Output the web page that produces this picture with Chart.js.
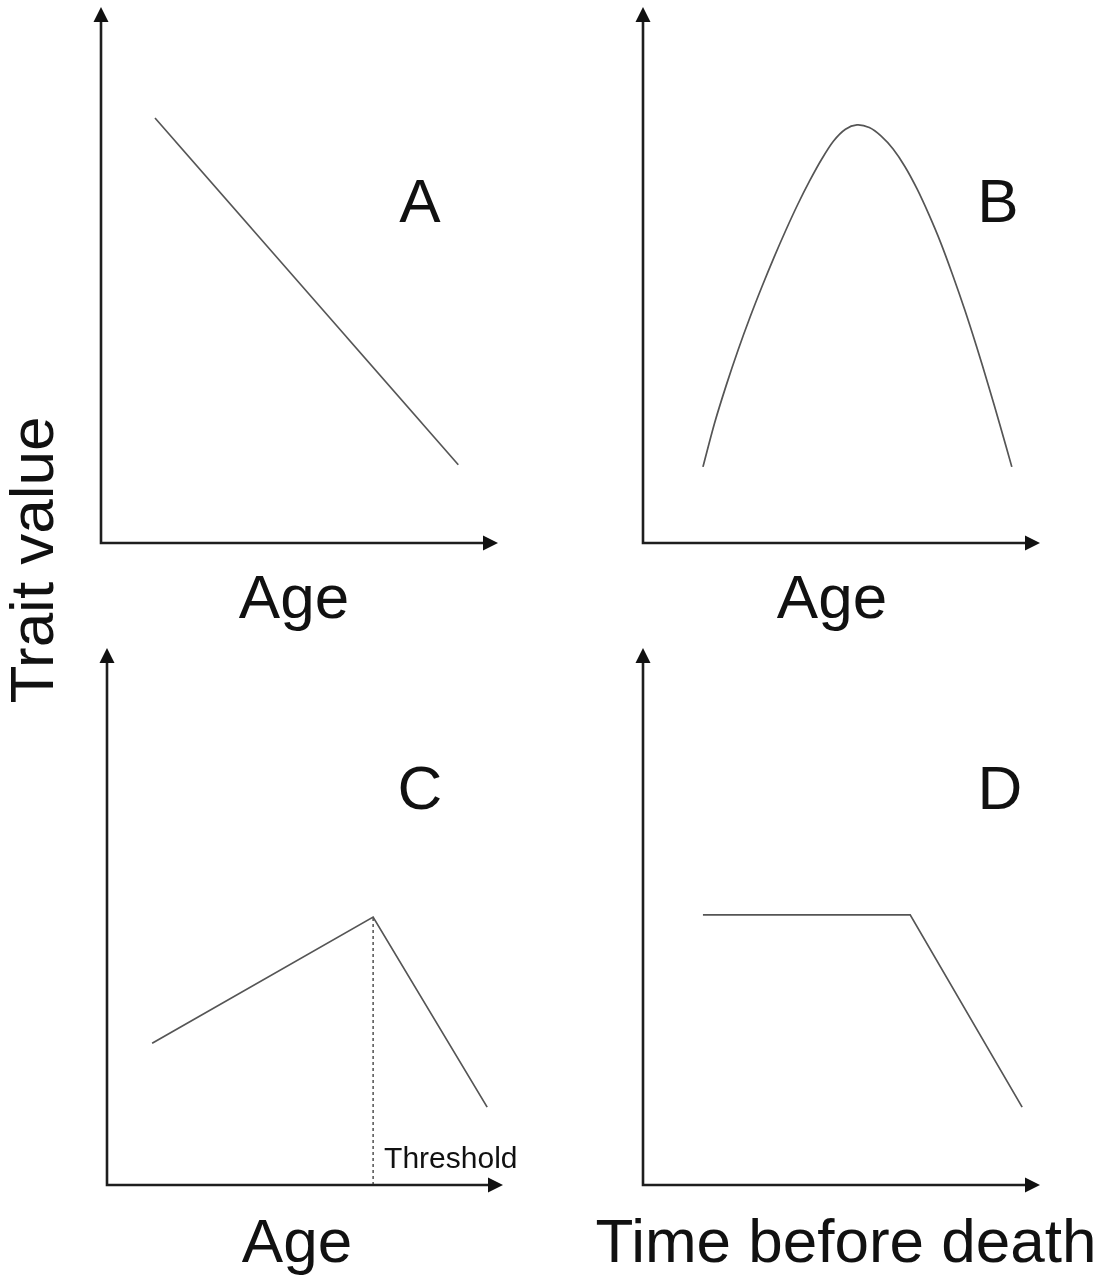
<!DOCTYPE html>
<html>
<head>
<meta charset="utf-8">
<title>Trait value patterns</title>
<script src="https://cdn.jsdelivr.net/npm/chart.js@4.4.0/dist/chart.umd.min.js"></script>
<style>
  body { margin: 0; background: #fff; }
  #wrap { position: relative; width: 1118px; height: 1277px; background: #fff; overflow: hidden; }
  #wrap canvas { position: absolute; }
  #ylab {
    position: absolute; left: 31.5px; top: 560px;
    font: 62px/62px "Liberation Sans", Arial, sans-serif; color: #111;
    white-space: nowrap;
    transform: translate(-50%, -50%) rotate(-90deg);
  }
</style>
</head>
<body>
<div id="wrap">
  <canvas id="panelA" width="489" height="640" style="left:70px;top:0px"></canvas>
  <canvas id="panelB" width="559" height="640" style="left:559px;top:0px"></canvas>
  <canvas id="panelC" width="489" height="637" style="left:70px;top:640px"></canvas>
  <canvas id="panelD" width="559" height="637" style="left:559px;top:640px"></canvas>
  <div id="ylab"></div>
</div>
<script>
// axis units run 0..10 on both axes in every panel
const yTitle = 'Trait value';
const panelLetters = ['A', 'B', 'C', 'D'];
const xTitles = ['Age', 'Age', 'Age', 'Time before death'];

// A: steady decline with age
const ageA = [1.36, 9.0];
const traitA = [7.93, 1.46];

// B: rise then fall (hump shaped)
const ageB = [1.51, 1.80, 2.10, 2.40, 2.70, 3.00, 3.30, 3.60, 3.90, 4.20, 4.50, 4.80, 5.10, 5.39,
              5.70, 6.00, 6.30, 6.60, 6.90, 7.20, 7.50, 7.80, 8.10, 8.40, 8.70, 9.00, 9.29];
const traitB = [1.42, 2.23, 2.95, 3.61, 4.22, 4.79, 5.33, 5.84, 6.32, 6.76, 7.16, 7.50, 7.72, 7.80,
                7.75, 7.59, 7.35, 7.02, 6.61, 6.13, 5.60, 5.00, 4.36, 3.67, 2.94, 2.18, 1.42];

// C: increase up to a threshold age, then decline
const ageC = [1.14, 6.72, 9.60];
const traitC = [2.64, 4.99, 1.45];
const thresholdAge = 6.72;
const thresholdLabel = 'Threshold';

// D: flat, then terminal decline before death
const timeD = [1.51, 6.73, 9.55];
const traitD = [5.03, 5.03, 1.45];

document.getElementById('ylab').textContent = yTitle;

const FONT = '"Liberation Sans", Arial, sans-serif';
const toPoints = (xs, ys) => xs.map((x, i) => ({ x: x, y: ys[i] }));

// axes with arrow heads, panel letter and x title
const arrowAxes = {
  id: 'arrowAxes',
  afterDraw(chart, args, opts) {
    const { ctx, chartArea: a } = chart;
    const head = 15, half = 7.5;
    ctx.save();
    ctx.strokeStyle = '#1e1e1e';
    ctx.fillStyle = '#111';
    ctx.lineWidth = 2.6;
    ctx.beginPath();
    ctx.moveTo(a.left, a.top + head - 1);
    ctx.lineTo(a.left, a.bottom);
    ctx.lineTo(a.right - head + 1, a.bottom);
    ctx.stroke();
    ctx.beginPath();
    ctx.moveTo(a.left, a.top);
    ctx.lineTo(a.left - half, a.top + head);
    ctx.lineTo(a.left + half, a.top + head);
    ctx.closePath();
    ctx.fill();
    ctx.beginPath();
    ctx.moveTo(a.right, a.bottom);
    ctx.lineTo(a.right - head, a.bottom - half);
    ctx.lineTo(a.right - head, a.bottom + half);
    ctx.closePath();
    ctx.fill();

    ctx.textBaseline = 'alphabetic';
    ctx.textAlign = 'center';
    ctx.font = '62px ' + FONT;
    ctx.fillText(opts.letter, a.left + opts.letterDx, a.top + opts.letterDy);
    ctx.fillText(opts.title, a.left + opts.titleDx, a.bottom + opts.titleDy);

    if (opts.threshold !== undefined) {
      const tx = chart.scales.x.getPixelForValue(opts.threshold);
      ctx.textAlign = 'left';
      ctx.font = '30px ' + FONT;
      ctx.fillText(thresholdLabel, tx + 11, a.bottom - 17);
    }
    ctx.restore();
  }
};

function makePanel(id, datasets, padding, deco) {
  return new Chart(document.getElementById(id), {
    type: 'line',
    data: { datasets: datasets },
    options: {
      responsive: false,
      animation: false,
      events: [],
      layout: { padding: padding },
      elements: { point: { radius: 0 } },
      scales: {
        x: { type: 'linear', min: 0, max: 10, display: false },
        y: { type: 'linear', min: 0, max: 10, display: false }
      },
      plugins: {
        legend: { display: false },
        tooltip: { enabled: false },
        arrowAxes: deco
      }
    },
    plugins: [arrowAxes]
  });
}

const lineStyle = { borderColor: '#555', borderWidth: 1.7, fill: false, tension: 0 };

makePanel('panelA',
  [Object.assign({ data: toPoints(ageA, traitA) }, lineStyle)],
  { left: 31, top: 7, right: 61, bottom: 97 },
  { letter: panelLetters[0], title: xTitles[0], letterDx: 319, letterDy: 215, titleDx: 193, titleDy: 75 });

makePanel('panelB',
  [Object.assign({}, lineStyle, { data: toPoints(ageB, traitB), tension: 0.3 })],
  { left: 84, top: 7, right: 78, bottom: 97 },
  { letter: panelLetters[1], title: xTitles[1], letterDx: 355, letterDy: 215, titleDx: 189, titleDy: 75 });

makePanel('panelC',
  [
    Object.assign({ data: toPoints(ageC, traitC) }, lineStyle),
    {
      data: [{ x: thresholdAge, y: 0 }, { x: thresholdAge, y: traitC[1] }],
      borderColor: '#444', borderWidth: 1.4, borderDash: [3, 3], fill: false
    }
  ],
  { left: 37, top: 8, right: 56, bottom: 92 },
  { letter: panelLetters[2], title: xTitles[2], letterDx: 313, letterDy: 161, titleDx: 190, titleDy: 77, threshold: thresholdAge });

makePanel('panelD',
  [Object.assign({ data: toPoints(timeD, traitD) }, lineStyle)],
  { left: 84, top: 8, right: 78, bottom: 92 },
  { letter: panelLetters[3], title: xTitles[3], letterDx: 357, letterDy: 161, titleDx: 203, titleDy: 77 });
</script>
</body>
</html>
